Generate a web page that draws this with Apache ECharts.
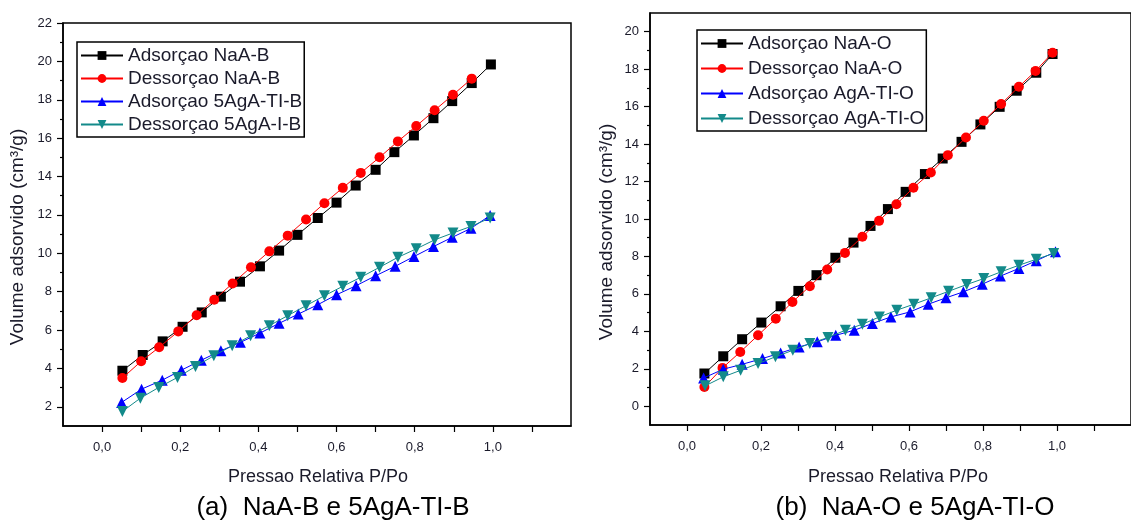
<!DOCTYPE html>
<html>
<head>
<meta charset="utf-8">
<script src="https://cdn.jsdelivr.net/npm/echarts@6/dist/echarts.min.js"></script>
<style>
html,body{margin:0;padding:0;background:#fff;}
#c{width:1131px;height:525px;}
</style>
</head>
<body>
<div id="c"></div>
<script>
// ---------- DATA ----------
var legendA = ['Adsorçao NaA-B', 'Dessorçao NaA-B', 'Adsorçao 5AgA-TI-B', 'Dessorçao 5AgA-I-B'];
var legendB = ['Adsorçao NaA-O', 'Dessorçao NaA-O', 'Adsorçao AgA-TI-O', 'Dessorçao AgA-TI-O'];
var captionA = '(a)  NaA-B e 5AgA-TI-B';
var captionB = '(b)  NaA-O e 5AgA-TI-O';
var xTitle = 'Pressao Relativa P/Po';
var yTitle = 'Volume adsorvido (cm³/g)';
var yLabelsA = [2,4,6,8,10,12,14,16,18,20,22];
var yMinorA = [3,5,7,9,11,13,15,17,19,21];
var yLabelsB = [0,2,4,6,8,10,12,14,16,18,20];
var yMinorB = [1,3,5,7,9,11,13,15,17,19];

// (a) NaA-B / 5AgA-TI-B
var adsNaB = [[0.052,3.88],[0.104,4.70],[0.155,5.41],[0.206,6.17],[0.255,6.92],[0.304,7.74],[0.353,8.52],[0.404,9.32],[0.453,10.14],[0.500,10.96],[0.552,11.84],[0.600,12.64],[0.649,13.53],[0.700,14.35],[0.748,15.27],[0.798,16.14],[0.848,17.04],[0.896,17.93],[0.946,18.87],[0.995,19.84]];
var desNaB = [[0.052,3.50],[0.100,4.37],[0.146,5.10],[0.195,5.93],[0.242,6.77],[0.287,7.58],[0.334,8.43],[0.381,9.27],[0.428,10.10],[0.475,10.92],[0.522,11.76],[0.569,12.61],[0.616,13.41],[0.662,14.19],[0.710,15.00],[0.757,15.83],[0.804,16.63],[0.851,17.45],[0.898,18.26],[0.946,19.10]];
var adsAgB = [[0.050,2.23],[0.101,2.92],[0.154,3.39],[0.203,3.91],[0.254,4.43],[0.304,4.92],[0.354,5.36],[0.404,5.84],[0.453,6.35],[0.502,6.83],[0.552,7.32],[0.600,7.84],[0.650,8.31],[0.700,8.83],[0.750,9.32],[0.798,9.83],[0.848,10.35],[0.896,10.83],[0.944,11.30],[0.993,11.97]];
var desAgB = [[0.052,1.76],[0.098,2.45],[0.145,3.01],[0.193,3.53],[0.239,4.10],[0.286,4.66],[0.333,5.18],[0.380,5.70],[0.428,6.23],[0.475,6.75],[0.522,7.27],[0.569,7.79],[0.616,8.28],[0.662,8.75],[0.710,9.27],[0.757,9.79],[0.804,10.23],[0.851,10.70],[0.898,11.06],[0.944,11.40],[0.993,11.84]];

// (b) NaA-O / 5AgA-TI-O
var adsNaO = [[0.047,1.75],[0.098,2.67],[0.149,3.58],[0.201,4.47],[0.253,5.34],[0.301,6.16],[0.350,7.00],[0.401,7.93],[0.450,8.74],[0.496,9.63],[0.543,10.53],[0.591,11.45],[0.643,12.40],[0.691,13.23],[0.742,14.12],[0.793,15.05],[0.845,15.99],[0.891,16.85],[0.944,17.81],[0.988,18.81]];
var desNaO = [[0.047,1.03],[0.096,2.05],[0.144,2.90],[0.192,3.79],[0.240,4.68],[0.285,5.57],[0.332,6.41],[0.379,7.30],[0.427,8.19],[0.474,9.05],[0.519,9.90],[0.566,10.79],[0.612,11.67],[0.659,12.48],[0.705,13.41],[0.754,14.35],[0.802,15.25],[0.849,16.14],[0.897,17.06],[0.942,17.90],[0.988,18.88]];
var adsAgO = [[0.045,1.51],[0.098,1.98],[0.149,2.24],[0.204,2.55],[0.253,2.85],[0.303,3.17],[0.352,3.44],[0.402,3.79],[0.452,4.06],[0.501,4.42],[0.551,4.77],[0.603,5.04],[0.652,5.45],[0.700,5.79],[0.747,6.11],[0.798,6.52],[0.847,6.95],[0.897,7.36],[0.944,7.77],[0.996,8.25]];
var desAgO = [[0.049,1.09],[0.098,1.57],[0.145,1.92],[0.192,2.28],[0.239,2.64],[0.286,2.99],[0.332,3.35],[0.381,3.67],[0.428,4.06],[0.474,4.38],[0.520,4.77],[0.567,5.13],[0.613,5.45],[0.660,5.79],[0.707,6.14],[0.756,6.50],[0.802,6.82],[0.849,7.18],[0.897,7.53],[0.944,7.85],[0.991,8.16]];

// ---------- STYLE ----------
var colors = ['#000000', '#ff0000', '#0000ff', '#138a8a'];
var symbols = ['rect', 'circle', 'triangle', 'path://M0,0 L10,0 L5,9 Z'];
var symSizes = [10, 10, 11, 11];
var FONT = 'Liberation Sans, Arial, sans-serif';
var TXT = '#1a1a2a';

function xLabel(v) {
  var t = Math.round(v * 10);
  if (t < 0 || t > 10 || t % 2) return '';
  return (t / 10).toFixed(1).replace('.', ',');
}

function xAxisDef(gi) {
  return {
    type: 'value', gridIndex: gi, min: -0.1, max: 1.2, interval: 0.1,
    axisLine: { show: true, onZero: false, lineStyle: { color: '#000', width: 1.5 } },
    axisTick: { show: true, inside: false, length: 6, lineStyle: { color: '#000', width: 1.2 } },
    axisLabel: { formatter: xLabel, margin: 15, fontSize: 13, color: TXT, fontFamily: FONT, showMaxLabel: false, showMinLabel: false },
    splitLine: { show: false }
  };
}
function yMain(gi, mn, mx, labs) {
  return {
    type: 'value', gridIndex: gi, min: mn, max: mx, position: 'left', offset: 0,
    axisLine: { show: true, onZero: false, lineStyle: { color: '#000', width: 1.5 } },
    axisTick: { show: true, inside: false, length: 6, customValues: labs, lineStyle: { color: '#000', width: 1.2 } },
    axisLabel: { customValues: labs, margin: 11, fontSize: 13, color: TXT, fontFamily: FONT, formatter: function (v) { return String(v); } },
    splitLine: { show: false }
  };
}
function yMinor(gi, mn, mx, vals) {
  return {
    type: 'value', gridIndex: gi, min: mn, max: mx, position: 'left', offset: 0,
    axisLine: { show: false, onZero: false },
    axisTick: { show: true, inside: false, length: 3, customValues: vals, lineStyle: { color: '#000', width: 1.2 } },
    axisLabel: { show: false },
    splitLine: { show: false }
  };
}

function mkSeries(names, datas, xi, yi) {
  return datas.map(function (d, i) {
    return {
      name: names[i], type: 'line', xAxisIndex: xi, yAxisIndex: yi,
      data: d, symbol: symbols[i], symbolSize: symSizes[i], showAllSymbol: true,
      lineStyle: { color: colors[i], width: 1 },
      itemStyle: { color: colors[i] },
      animation: false, z: 3 + i
    };
  });
}

function legendDef(names, left, top, gap) {
  return {
    data: names, orient: 'vertical', left: left, top: top,
    itemWidth: 42, itemHeight: 11, itemGap: gap,
    padding: [4, 2, 3, 3],
    borderColor: '#000', borderWidth: 1.5, backgroundColor: '#fff',
    textStyle: { fontSize: 19, color: TXT, fontFamily: FONT, lineHeight: 19 },
    selectedMode: false
  };
}

var chart = echarts.init(document.getElementById('c'), null, { renderer: 'canvas' });
var option = {
  backgroundColor: '#fff',
  animation: false,
  grid: [
    { left: 63, top: 23, width: 508, height: 403, show: true, borderColor: '#000', borderWidth: 1.5, backgroundColor: 'transparent' },
    { left: 650, top: 13, width: 490, height: 412, show: true, borderColor: '#000', borderWidth: 1.5, backgroundColor: 'transparent' }
  ],
  xAxis: [xAxisDef(0), xAxisDef(1)],
  yAxis: [
    yMain(0, 1, 22, yLabelsA), yMinor(0, 1, 22, yMinorA),
    yMain(1, -1, 21, yLabelsB), yMinor(1, -1, 21, yMinorB)
  ],
  legend: [legendDef(legendA, 77, 42, 4), legendDef(legendB, 697, 30, 6)],
  series: [].concat(
    mkSeries(legendA, [adsNaB, desNaB, adsAgB, desAgB], 0, 0),
    mkSeries(legendB, [adsNaO, desNaO, adsAgO, desAgO], 1, 2)
  ),
  graphic: [
    { type: 'text', x: 318, y: 477, style: { text: xTitle, fontSize: 18, fill: TXT, fontFamily: FONT, align: 'center', verticalAlign: 'middle' } },
    { type: 'text', x: 898, y: 477, style: { text: xTitle, fontSize: 18, fill: TXT, fontFamily: FONT, align: 'center', verticalAlign: 'middle' } },
    { type: 'text', x: 18, y: 237, rotation: Math.PI / 2, style: { text: yTitle, fontSize: 19, fill: TXT, fontFamily: FONT, align: 'center', verticalAlign: 'middle' } },
    { type: 'text', x: 607, y: 232, rotation: Math.PI / 2, style: { text: yTitle, fontSize: 19, fill: TXT, fontFamily: FONT, align: 'center', verticalAlign: 'middle' } },
    { type: 'text', x: 333, y: 508, style: { text: captionA, fontSize: 26, fill: '#000', fontFamily: FONT, align: 'center', verticalAlign: 'middle' } },
    { type: 'text', x: 915, y: 508, style: { text: captionB, fontSize: 26, fill: '#000', fontFamily: FONT, align: 'center', verticalAlign: 'middle' } }
  ]
};
chart.setOption(option);
</script>
</body>
</html>
